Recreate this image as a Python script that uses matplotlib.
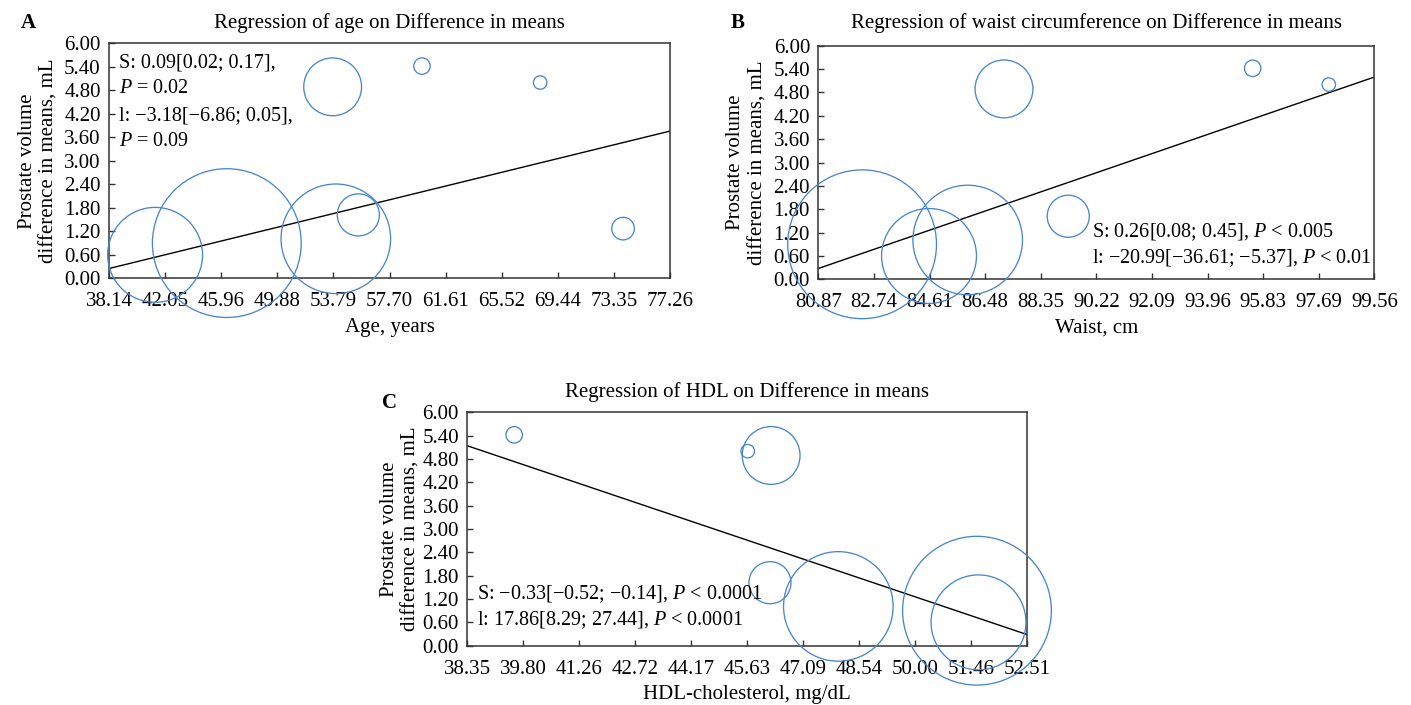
import numpy as np
import matplotlib
matplotlib.use("Agg")
import matplotlib.pyplot as plt

plt.rcParams["font.family"] = ["Liberation Serif", "DejaVu Serif"]
plt.rcParams["mathtext.fontset"] = "custom"
plt.rcParams["mathtext.rm"] = "Liberation Serif"
plt.rcParams["mathtext.it"] = "Liberation Serif:italic"

# per-study values (same 8 studies in each panel, nan = not reported)
diff_means = [0.60, 0.90, 1.01, 1.62, 4.89, 5.42, 5.00, 1.27]
weight = [18.3, 45.0, 24.4, 3.6, 6.8, 0.55, 0.37, 1.04]
age = [41.35, 46.35, 53.95, 55.52, 53.73, 59.96, 68.20, 73.98]
waist = [84.59, 82.34, 85.89, 89.27, 87.11, 95.47, 98.03, np.nan]
hdl = [51.66, 51.62, 48.01, 46.23, 46.26, 39.57, 45.65, np.nan]

# meta-regression lines: slope, intercept
fit_age = (0.0897, -3.17)
fit_waist = (0.263, -20.99)
fit_hdl = (-0.333, 17.91)

age_ticks = ["38.14", "42.05", "45.96", "49.88", "53.79", "57.70", "61.61", "65.52", "69.44", "73.35", "77.26"]
waist_ticks = ["80.87", "82.74", "84.61", "86.48", "88.35", "90.22", "92.09", "93.96", "95.83", "97.69", "99.56"]
hdl_ticks = ["38.35", "39.80", "41.26", "42.72", "44.17", "45.63", "47.09", "48.54", "50.00", "51.46", "52.51"]
y_ticks = np.arange(0, 6.01, 0.6)

blue = "#4a86d0"

fig = plt.figure(figsize=(14.11, 7.05), dpi=100)


def panel(rect, x, fit, xlim, ticklabels, title, xlabel, letter, notes, ylab_x, title_pad):
    ax = fig.add_axes(rect)
    ax.scatter(x, diff_means, s=np.array(weight) * 255, facecolors="none",
               edgecolors=blue, linewidths=0.95, clip_on=False, zorder=3)
    xs = np.array(xlim)
    ax.plot(xs, fit[0] * xs + fit[1], color="black", lw=1.0, zorder=2)
    ax.set_xlim(*xlim)
    ax.set_ylim(0, 6)
    ax.set_xticks(np.linspace(xlim[0], xlim[1], 11))
    ax.set_xticklabels(ticklabels)
    ax.set_yticks(y_ticks)
    ax.set_yticklabels(["%.2f" % v for v in y_ticks])
    ax.tick_params(direction="in", length=4, width=1.0, labelsize=15, color="#333333")
    ax.tick_params(axis="x", pad=10)
    ax.tick_params(axis="y", pad=6)
    for sp in ax.spines.values():
        sp.set_color("#333333")
        sp.set_linewidth(1.1)
    ax.set_title(title, fontsize=15, pad=title_pad)
    ax.set_xlabel(xlabel, fontsize=15)
    ax.xaxis.set_label_coords(0.5, -0.170)
    ax.set_ylabel("Prostate volume\ndifference in means, mL", fontsize=15, linespacing=1.2)
    ax.yaxis.set_label_coords(ylab_x, 0.5)
    for tx, ty, s in notes:
        ax.text(tx, ty, s, transform=ax.transAxes, fontsize=14.5, va="baseline", ha="left")
    fig.text(letter[1], letter[2], letter[0], fontsize=15, fontweight="bold", va="baseline")
    return ax


panel([0.0773, 0.6052, 0.3976, 0.3333], age, fit_age, (38.14, 77.26), age_ticks,
      "Regression of age on Difference in means", "Age, years",
      ("A", 0.015, 1 - 28 / 705),
      [(0.018, 0.900, "S: 0.09[0.02; 0.17],"),
       (0.018, 0.789, "$P$ = 0.02"),
       (0.018, 0.675, "l: \u22123.18[\u22126.86; 0.05],"),
       (0.018, 0.563, "$P$ = 0.09")],
      -0.090, 11.2)

panel([0.5800, 0.6038, 0.3940, 0.3314], waist, fit_waist, (80.87, 99.56), waist_ticks,
      "Regression of waist circumference on Difference in means", "Waist, cm",
      ("B", 0.518, 1 - 28 / 705),
      [(0.493, 0.182, "S: 0.26[0.08; 0.45], $P$ < 0.005"),
       (0.493, 0.070, "l: \u221220.99[\u221236.61; \u22125.37], $P$ < 0.01")],
      -0.092, 12.5)

panel([0.3312, 0.0841, 0.3965, 0.3311], hdl, fit_hdl, (38.35, 52.917), hdl_ticks,
      "Regression of HDL on Difference in means", "HDL-cholesterol, mg/dL",
      ("C", 0.271, 1 - 408 / 705),
      [(0.017, 0.199, "S: \u22120.33[\u22120.52; \u22120.14], $P$ < 0.0001"),
       (0.017, 0.089, "l: 17.86[8.29; 27.44], $P$ < 0.0001")],
      -0.083, 11.2)

fig.savefig("out.png", dpi=100)
